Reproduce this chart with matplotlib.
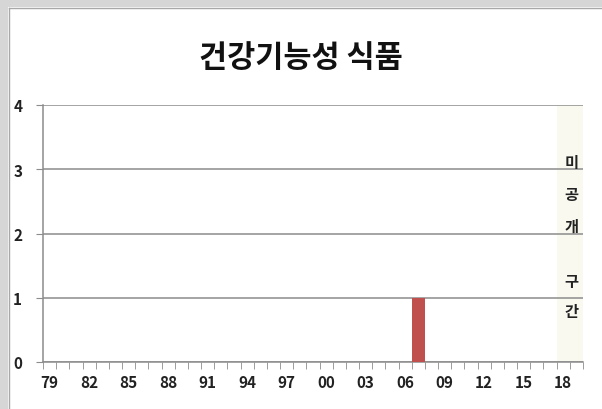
import matplotlib
matplotlib.use("Agg")
import matplotlib.pyplot as plt
from matplotlib.patches import Rectangle

plt.rcParams['font.family'] = ['Noto Sans CJK KR', 'DejaVu Sans']

# Data
years = list(range(1979, 2020))
counts = [0] * len(years)
counts[years.index(2007)] = 1
tick_years = list(range(1979, 2020, 3))
tick_labels = [f"{y % 100:02d}" for y in tick_years]
hidden_start, hidden_end = 2018, 2019
hidden_chars = ["미", "공", "개", "구", "간"]
title = "건강기능성 식품"

fig = plt.figure(figsize=(6.02, 4.10), dpi=100)
fig.patch.set_facecolor("white")

# Chart frame with soft gray shadow band on top and left
fig.patches.append(Rectangle((0, 0), 8 / 602, 1, transform=fig.transFigure,
                             facecolor="#d6d6d6", edgecolor="none", zorder=0))
fig.patches.append(Rectangle((0, 1 - 8 / 410), 1, 8 / 410, transform=fig.transFigure,
                             facecolor="#d6d6d6", edgecolor="none", zorder=0))
fig.add_artist(plt.Line2D([9 / 602, 9 / 602], [0, 1 - 9 / 410], transform=fig.transFigure,
                          color="#a8a8a8", lw=1))
fig.add_artist(plt.Line2D([9 / 602, 1], [1 - 9 / 410, 1 - 9 / 410], transform=fig.transFigure,
                          color="#a8a8a8", lw=1))

ax = fig.add_axes([43 / 602, 1 - 363 / 410, 540 / 602, (363 - 106) / 410])
ax.set_facecolor("none")

x = list(range(len(years)))
# Undisclosed period shading
i0 = years.index(hidden_start)
i1 = years.index(hidden_end)
ax.axvspan(i0 - 0.5, i1 + 0.5 + 0.1, color="#f9f9f0", zorder=0, lw=0)

ax.bar(x, counts, width=0.95, color="#c0504d", zorder=3)

ax.set_xlim(-0.5, len(years) - 0.5)
ax.set_ylim(0, 4)
ax.set_yticks([0, 1, 2, 3, 4])
ax.yaxis.grid(True, color="#8c8c8c", lw=1.1, zorder=1)
ax.set_axisbelow(True)

ax.set_xticks([years.index(y) for y in tick_years])
ax.set_xticklabels(tick_labels)
ax.set_xticks([i - 0.5 for i in range(len(years) + 1)], minor=True)
ax.tick_params(axis="x", which="major", length=0, pad=9, labelsize=11, labelcolor="#222222")
ax.tick_params(axis="x", which="minor", length=5, color="#8c8c8c", direction="out")
ax.tick_params(axis="y", length=5, color="#8c8c8c", pad=10, labelsize=11, labelcolor="#222222")
for lbl in ax.get_xticklabels() + ax.get_yticklabels():
    lbl.set_fontweight("bold")

for s in ["top", "right"]:
    ax.spines[s].set_visible(False)
for s in ["left", "bottom"]:
    ax.spines[s].set_color("#8c8c8c")
    ax.spines[s].set_linewidth(1.1)

# Vertical label for the undisclosed period
char_y = [163, 195, 227, 282, 312]
xc = (i0 + i1) / 2 + 0.15
for ch, py in zip(hidden_chars, char_y):
    ax.text(xc, 1 - (py - 106) / (363 - 106), ch, transform=ax.get_xaxis_transform(),
            ha="center", va="center", fontsize=11, fontweight="bold", color="#222222", zorder=4)

fig.text(0.5, 1 - 58 / 410, title, ha="center", va="center",
         fontsize=22, fontweight="bold", color="#111111")

fig.savefig("out.png", dpi=100)
